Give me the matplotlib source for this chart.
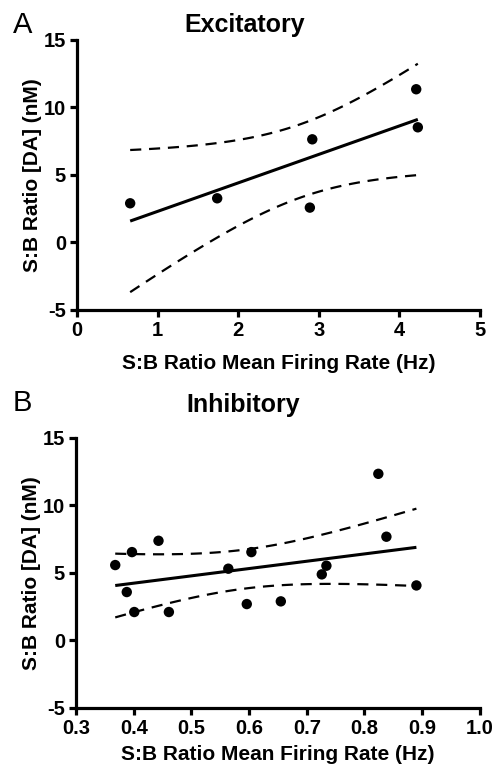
import numpy as np
import matplotlib
matplotlib.use('Agg')
import matplotlib.pyplot as plt

plt.rcParams['font.family'] = ['Liberation Sans', 'DejaVu Sans']
plt.rcParams['axes.unicode_minus'] = False

# Datos: excitatorias
exc_x = [0.66, 1.74, 2.92, 2.89, 4.21, 4.23]
exc_y = [2.90, 3.27, 7.64, 2.58, 11.35, 8.53]

# Datos: inhibitorias
inh_x = [0.368, 0.388, 0.397, 0.401, 0.443, 0.461, 0.564, 0.596, 0.604,
         0.655, 0.726, 0.734, 0.824, 0.838, 0.890]
inh_y = [5.57, 3.57, 6.53, 2.09, 7.37, 2.09, 5.30, 2.68, 6.53,
         2.88, 4.88, 5.52, 12.33, 7.67, 4.06]

# t de Student (0.975) para n-2 grados de libertad
t_exc = 2.776
t_inh = 2.160

exc_xticks = [0, 1, 2, 3, 4, 5]
inh_xticks = [0.3, 0.4, 0.5, 0.6, 0.7, 0.8, 0.9, 1.0]
yticks = [-5, 0, 5, 10, 15]


def regresion(ax, x, y, t):
    x = np.array(x)
    y = np.array(y)
    n = len(x)
    m, b = np.polyfit(x, y, 1)
    res = y - (m * x + b)
    s = np.sqrt(np.sum(res ** 2) / (n - 2))
    sxx = np.sum((x - x.mean()) ** 2)
    xs = np.linspace(x.min(), x.max(), 100)
    yh = m * xs + b
    se = s * np.sqrt(1.0 / n + (xs - x.mean()) ** 2 / sxx)
    ax.plot(xs, yh, color='black', lw=2.2, solid_capstyle='butt')
    ax.plot(xs, yh + t * se, color='black', lw=1.6, ls=(0, (5, 3.5)))
    ax.plot(xs, yh - t * se, color='black', lw=1.6, ls=(0, (5, 3.5)))
    ax.scatter(x, y, s=56, color='black', zorder=3, edgecolors='none')


def estilo(ax, xticks, xlim, fmt, xpad):
    ax.set_xlim(xlim)
    ax.set_ylim(-5, 15)
    ax.set_xticks(xticks)
    ax.set_xticklabels([fmt.format(v) for v in xticks])
    ax.set_yticks(yticks)
    for sp in ['top', 'right']:
        ax.spines[sp].set_visible(False)
    for sp in ['left', 'bottom']:
        ax.spines[sp].set_linewidth(2.3)
    ax.tick_params(direction='out', length=5, width=2.3, labelsize=14.5, pad=3)
    for lab in ax.get_xticklabels() + ax.get_yticklabels():
        lab.set_fontweight('bold')
    ax.set_ylabel('S:B Ratio [DA] (nM)', fontsize=15, fontweight='bold', labelpad=1)
    ax.set_xlabel('S:B Ratio Mean Firing Rate (Hz)', fontsize=15, fontweight='bold', labelpad=xpad)


fig = plt.figure(figsize=(4.98, 7.69), dpi=100)

ax1 = fig.add_axes([0.1546, 0.597, 0.809, 0.351])
regresion(ax1, exc_x, exc_y, t_exc)
estilo(ax1, exc_xticks, (0, 5), '{:g}', 10)

ax2 = fig.add_axes([0.1526, 0.0797, 0.811, 0.351])
regresion(ax2, inh_x, inh_y, t_inh)
estilo(ax2, inh_xticks, (0.3, 1.0), '{:.1f}', 5)

fig.text(0.492, 1 - 25 / 769, 'Excitatory', ha='center', va='center',
         fontsize=18, fontweight='bold')
fig.text(0.488, 1 - 405 / 769, 'Inhibitory', ha='center', va='center',
         fontsize=18, fontweight='bold')
fig.text(13 / 498, 1 - 25 / 769, 'A', ha='left', va='center', fontsize=21)
fig.text(13 / 498, 1 - 403 / 769, 'B', ha='left', va='center', fontsize=21)

fig.savefig('out.png', dpi=100)
